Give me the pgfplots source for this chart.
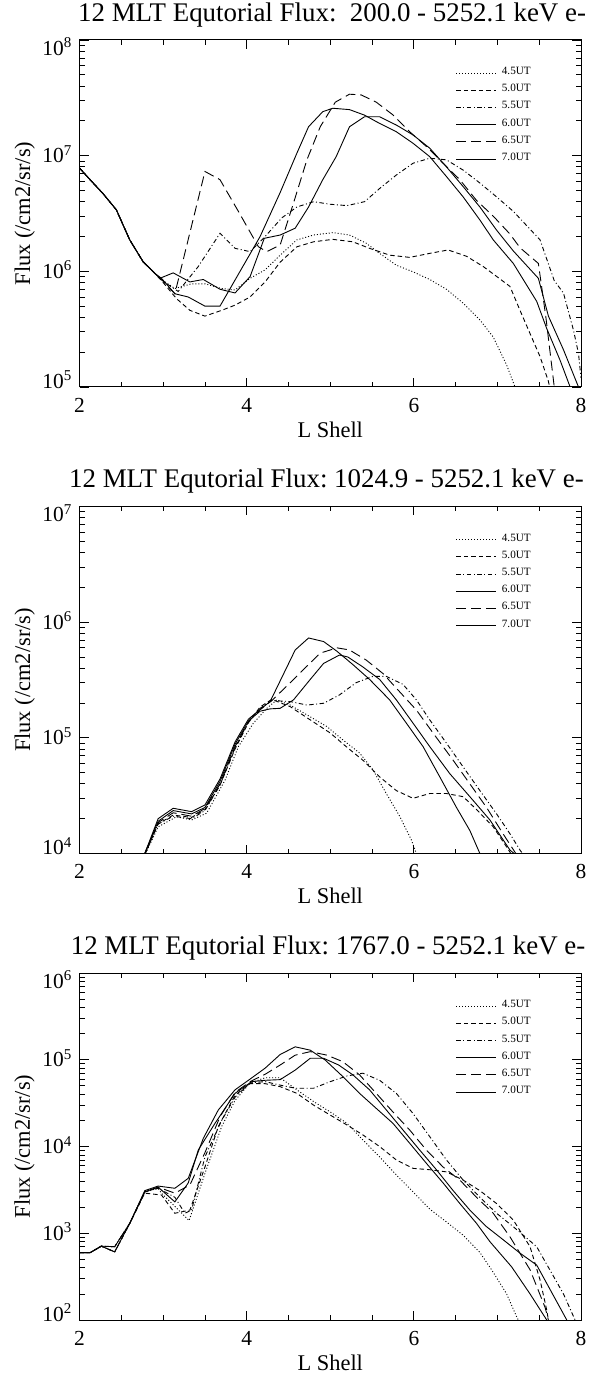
\documentclass[border=0pt]{standalone}
\usepackage{fontspec}
\setmainfont{Liberation Serif}
\usepackage{pgfplots}
\pgfplotsset{compat=1.18}
\newcommand{\lab}[2]{\raisebox{#2}[0pt][0pt]{10\textsuperscript{#1}}}
\tikzset{
  s45/.style={black, line width=0.9bp, dash pattern=on 1bp off 2bp},
  s50/.style={black, line width=0.9bp, dash pattern=on 4.5bp off 3bp},
  s55/.style={black, line width=0.9bp, dash pattern=on 4.5bp off 2.5bp on 1bp off 2.5bp},
  s60/.style={black, line width=0.9bp},
  s65/.style={black, line width=0.9bp, dash pattern=on 10bp off 5bp},
  s70/.style={black, line width=0.9bp},
}
\pgfplotsset{
    scale only axis, width=501.4bp, height=347bp,
    xmin=2, xmax=8, xtick={2,4,6,8}, xticklabels={2,4,6,8}, minor x tick num=3,
    tick align=inside, tick pos=both, xticklabel pos=left, yticklabel pos=left,
    major tick length=9bp, minor tick length=5bp,
    every tick/.style={black, line width=0.8bp},
    axis line style={line width=1bp},
    tick label style={font=\fontsize{21.5}{25}\selectfont, inner sep=0pt},
    xticklabel style={anchor=north, yshift=-11bp},
    yticklabel style={anchor=east, xshift=-7.5bp},
    xlabel style={at={(axis description cs:0.5,-0.14553)}, anchor=base, inner sep=0pt, font=\fontsize{22.5}{26}\selectfont},
    ylabel style={at={(axis description cs:-0.09892,0.5)}, anchor=base, inner sep=0pt, font=\fontsize{22.5}{26}\selectfont},
    title style={anchor=base west, inner sep=0pt, font=\fontsize{27}{30}\selectfont\frenchspacing},
    legend style={at={(axis description cs:0.7507,0.9222)}, anchor=north west,
      font=\fontsize{11.2}{12}\selectfont, draw=none, fill=none, inner sep=0pt, outer sep=0pt,
      row sep=9.6bp, column sep=5bp, nodes={inner sep=0pt, text height=7.6bp, text depth=0bp},
      cells={anchor=base west}},
    legend image code/.code={\draw[#1] (0bp,1.5bp) -- (40bp,1.5bp);},
}
\begin{document}
\begin{tikzpicture}
\useasboundingbox (0bp,0bp) rectangle (590bp,-1374bp);
% ---------------- Panel 1 ----------------
\begin{axis}[anchor=north west, at={(79.6bp,-40bp)},
  ymode=log,
  ymin=1e5, ymax=1e8,
  ytick={1e5,1e6,1e7,1e8},
  yticklabels={{\lab{5}{-1.1bp}},{\lab{6}{-7.1bp}},{\lab{7}{-7.1bp}},{\lab{8}{-15.4bp}}},
  minor ytick={2e5,3e5,4e5,5e5,6e5,7e5,8e5,9e5,2e6,3e6,4e6,5e6,6e6,7e6,8e6,9e6,2e7,3e7,4e7,5e7,6e7,7e7,8e7,9e7},
  xlabel={L Shell}, ylabel={Flux (/cm2/sr/s)},
  title={12 MLT Equtorial Flux:\ \ 200.0 - 5252.1 keV e-},
  title style={at={(axis description cs:-0.0032,1.03746)}},
]
\addplot[s45] coordinates {(2.0,7.8e6) (2.125,6.2e6) (2.28,4.7e6) (2.44,3.4e6) (2.60,1.87e6) (2.76,1.21e6) (2.90,9.6e5) (3.0,8.3e5) (3.14,7.1e5) (3.34,7.8e5) (3.50,7.8e5) (3.70,7.1e5) (3.86,6.9e5) (4.04,8.7e5) (4.22,1.03e6) (4.40,1.38e6) (4.60,1.87e6) (4.80,2.06e6) (5.03,2.16e6) (5.23,2.06e6) (5.43,1.75e6) (5.59,1.43e6) (5.79,1.13e6) (5.99,9.9e5) (6.19,8.5e5) (6.39,7.0e5) (6.59,5.3e5) (6.79,3.8e5) (6.95,2.7e5) (7.11,1.55e5) (7.21,1.0e5) (7.24,9.2e4)};
\addplot[s50] coordinates {(2.0,7.8e6) (2.125,6.2e6) (2.28,4.7e6) (2.44,3.4e6) (2.60,1.87e6) (2.76,1.21e6) (2.90,9.6e5) (3.0,8.0e5) (3.16,5.8e5) (3.32,4.6e5) (3.50,4.1e5) (3.70,4.6e5) (3.86,5.1e5) (4.04,6.0e5) (4.22,8.1e5) (4.40,1.2e6) (4.60,1.63e6) (4.80,1.8e6) (5.03,1.89e6) (5.27,1.8e6) (5.47,1.58e6) (5.71,1.38e6) (5.95,1.32e6) (6.19,1.43e6) (6.41,1.53e6) (6.63,1.35e6) (6.83,1.1e6) (7.03,8.6e5) (7.15,7.4e5) (7.27,4.6e5) (7.39,2.9e5) (7.51,1.83e5) (7.61,1.12e5) (7.63,9.5e4)};
\addplot[s55] coordinates {(2.0,7.8e6) (2.125,6.2e6) (2.28,4.7e6) (2.44,3.4e6) (2.60,1.87e6) (2.76,1.21e6) (2.90,9.6e5) (3.0,8.2e5) (3.18,6.7e5) (3.42,1.1e6) (3.68,2.13e6) (3.86,1.58e6) (4.04,1.48e6) (4.22,2.0e6) (4.42,2.9e6) (4.60,3.6e6) (4.80,4.0e6) (5.0,3.8e6) (5.20,3.7e6) (5.41,4.0e6) (5.59,5.2e6) (5.79,6.8e6) (5.99,8.6e6) (6.19,9.5e6) (6.39,9.2e6) (6.59,7.5e6) (6.79,5.8e6) (6.99,4.4e6) (7.19,3.3e6) (7.51,1.87e6) (7.68,8.3e5) (7.79,6.5e5) (7.91,3.1e5) (7.97,1.95e5) (8.0,1.2e5)};
\addplot[s60] coordinates {(2.0,7.8e6) (2.125,6.2e6) (2.28,4.7e6) (2.44,3.4e6) (2.60,1.87e6) (2.76,1.21e6) (2.90,9.6e5) (2.98,8.7e5) (3.14,6.4e5) (3.30,6.0e5) (3.50,5.0e5) (3.68,5.0e5) (4.16,2.0e6) (4.40,4.8e6) (4.60,1.05e7) (4.74,1.78e7) (4.91,2.4e7) (5.03,2.57e7) (5.23,2.5e7) (5.41,2.24e7) (5.59,1.9e7) (5.79,1.61e7) (5.99,1.28e7) (6.19,9.8e6) (6.39,6.6e6) (6.59,4.4e6) (6.79,2.78e6) (6.95,1.87e6) (7.19,1.17e6) (7.47,5.5e5) (7.59,3.2e5) (7.75,1.7e5) (7.87,1.0e5)};
\addplot[s65] coordinates {(2.0,7.8e6) (2.125,6.2e6) (2.28,4.7e6) (2.44,3.4e6) (2.60,1.87e6) (2.76,1.21e6) (2.90,9.6e5) (2.98,8.5e5) (3.14,6.4e5) (3.50,7.3e6) (3.68,6.2e6) (3.90,3.3e6) (4.14,1.63e6) (4.24,1.48e6) (4.40,1.69e6) (4.56,3.9e6) (4.72,9.2e6) (4.88,1.78e7) (5.06,2.9e7) (5.23,3.4e7) (5.37,3.35e7) (5.55,2.9e7) (5.75,2.25e7) (5.95,1.61e7) (6.15,1.2e7) (6.35,8.6e6) (6.55,6.2e6) (6.75,4.1e6) (6.95,3.0e6) (7.15,2.1e6) (7.27,1.6e6) (7.49,1.17e6) (7.58,4.0e5) (7.68,1.0e5)};
\addplot[s70] coordinates {(2.0,7.8e6) (2.125,6.2e6) (2.28,4.7e6) (2.44,3.4e6) (2.60,1.87e6) (2.76,1.21e6) (2.90,9.6e5) (2.96,8.7e5) (3.12,9.7e5) (3.32,8.1e5) (3.48,8.5e5) (3.68,7.0e5) (3.86,6.5e5) (4.04,9.0e5) (4.21,1.93e6) (4.40,2.06e6) (4.58,2.36e6) (4.74,3.6e6) (4.91,6.2e6) (5.07,9.8e6) (5.23,1.78e7) (5.41,2.17e7) (5.59,2.17e7) (5.79,1.84e7) (5.99,1.51e7) (6.19,1.16e7) (6.39,8.0e6) (6.59,5.4e6) (6.79,3.6e6) (6.99,2.27e6) (7.19,1.5e6) (7.49,8.7e5) (7.61,4.1e5) (7.79,2.1e5) (7.97,1.0e5)};
\legend{4.5UT,5.0UT,5.5UT,6.0UT,6.5UT,7.0UT}
\end{axis}
% ---------------- Panel 2 ----------------
\begin{axis}[anchor=north west, at={(79.6bp,-506.5bp)},
  ymode=log,
  ymin=1e4, ymax=1e7,
  ytick={1e4,1e5,1e6,1e7},
  yticklabels={{\lab{4}{-1.1bp}},{\lab{5}{-7.1bp}},{\lab{6}{-7.1bp}},{\lab{7}{-15.4bp}}},
  minor ytick={2e4,3e4,4e4,5e4,6e4,7e4,8e4,9e4,2e5,3e5,4e5,5e5,6e5,7e5,8e5,9e5,2e6,3e6,4e6,5e6,6e6,7e6,8e6,9e6},
  xlabel={L Shell}, ylabel={Flux (/cm2/sr/s)},
  title={12 MLT Equtorial Flux: 1024.9 - 5252.1 keV e-},
  title style={at={(axis description cs:-0.02114,1.03746)}},
]
\addplot[s45] coordinates {(2.79,1.0e4) (2.94,1.7e4) (3.16,2.08e4) (3.34,1.95e4) (3.52,2.23e4) (3.74,4.3e4) (3.90,8.4e4) (4.08,1.34e5) (4.24,1.8e5) (4.36,2.13e5) (4.52,1.92e5) (4.76,1.52e5) (4.96,1.25e5) (5.15,9.6e4) (5.35,7.4e4) (5.51,5.3e4) (5.67,3.3e4) (5.83,2.1e4) (5.97,1.31e4) (6.03,1.0e4)};
\addplot[s50] coordinates {(2.785,1.0e4) (2.94,1.8e4) (3.12,2.15e4) (3.34,2.05e4) (3.5,2.4e4) (3.68,3.9e4) (3.86,8.0e4) (4.02,1.35e5) (4.16,1.85e5) (4.30,2.15e5) (4.52,1.86e5) (4.76,1.43e5) (5.0,1.1e5) (5.19,8.4e4) (5.39,6.4e4) (5.59,4.6e4) (5.79,3.5e4) (5.99,3.0e4) (6.19,3.3e4) (6.39,3.3e4) (6.59,3.1e4) (6.75,2.4e4) (6.95,1.7e4) (7.11,1.14e4) (7.16,1.0e4)};
\addplot[s55] coordinates {(2.785,1.0e4) (2.94,1.8e4) (3.12,2.1e4) (3.34,2.0e4) (3.5,2.35e4) (3.68,3.9e4) (3.86,8.2e4) (4.02,1.38e5) (4.16,1.8e5) (4.30,2.1e5) (4.52,2.06e5) (4.72,1.92e5) (4.92,1.99e5) (5.11,2.35e5) (5.31,3.0e5) (5.51,3.4e5) (5.67,3.4e5) (5.87,2.9e5) (6.03,2.13e5) (6.19,1.43e5) (6.39,9.0e4) (6.59,5.6e4) (6.79,3.5e4) (6.99,2.2e4) (7.15,1.48e4) (7.27,1.07e4) (7.30,1.0e4)};
\addplot[s60] coordinates {(2.78,1.0e4) (2.94,2.0e4) (3.12,2.46e4) (3.34,2.3e4) (3.50,2.63e4) (3.68,4.4e4) (3.86,9.2e4) (4.02,1.45e5) (4.16,1.76e5) (4.28,2.06e5) (4.58,5.75e5) (4.74,7.3e5) (4.92,6.8e5) (5.08,5.6e5) (5.27,4.3e5) (5.47,3.2e5) (5.71,2.13e5) (5.91,1.34e5) (6.11,8.4e4) (6.31,4.6e4) (6.51,2.5e4) (6.67,1.58e4) (6.79,1.0e4)};
\addplot[s65] coordinates {(2.78,1.0e4) (2.94,1.85e4) (3.12,2.25e4) (3.34,2.1e4) (3.5,2.45e4) (3.68,4.0e4) (3.86,8.4e4) (4.02,1.38e5) (4.16,1.75e5) (4.30,2.1e5) (4.50,2.9e5) (4.68,3.9e5) (4.88,5.4e5) (5.08,6.0e5) (5.23,5.75e5) (5.43,4.7e5) (5.63,3.6e5) (5.83,2.5e5) (6.03,1.74e5) (6.23,1.1e5) (6.47,6.4e4) (6.67,4.0e4) (6.87,2.5e4) (7.07,1.47e4) (7.22,1.0e4)};
\addplot[s70] coordinates {(2.78,1.0e4) (2.94,1.9e4) (3.12,2.35e4) (3.34,2.2e4) (3.5,2.5e4) (3.68,4.2e4) (3.86,8.8e4) (4.02,1.4e5) (4.16,1.7e5) (4.28,1.78e5) (4.40,1.8e5) (4.56,2.13e5) (4.76,3.2e5) (4.92,4.4e5) (5.11,5.2e5) (5.21,5.0e5) (5.39,4.1e5) (5.59,3.2e5) (5.79,2.13e5) (5.99,1.34e5) (6.19,8.4e4) (6.43,4.9e4) (6.67,3.1e4) (6.91,1.95e4) (7.15,1.07e4) (7.2,1.0e4)};
\legend{4.5UT,5.0UT,5.5UT,6.0UT,6.5UT,7.0UT}
\end{axis}
% ---------------- Panel 3 ----------------
\begin{axis}[anchor=north west, at={(79.6bp,-973bp)},
  ymode=log,
  ymin=1e2, ymax=1e6,
  ytick={1e2,1e3,1e4,1e5,1e6},
  yticklabels={{\lab{2}{-1.1bp}},{\lab{3}{-7.1bp}},{\lab{4}{-7.1bp}},{\lab{5}{-7.1bp}},{\lab{6}{-15.4bp}}},
  minor ytick={2e2,3e2,4e2,5e2,6e2,7e2,8e2,9e2,2e3,3e3,4e3,5e3,6e3,7e3,8e3,9e3,2e4,3e4,4e4,5e4,6e4,7e4,8e4,9e4,2e5,3e5,4e5,5e5,6e5,7e5,8e5,9e5},
  xlabel={L Shell}, ylabel={Flux (/cm2/sr/s)},
  title={12 MLT Equtorial Flux: 1767.0 - 5252.1 keV e-},
  title style={at={(axis description cs:-0.01795,1.03746)}},
]
\addplot[s45] coordinates {(2.0,5.97e2) (2.125,5.97e2) (2.26,7.1e2) (2.42,7.0e2) (2.60,1.3e3) (2.78,3.0e3) (2.94,3.3e3) (2.98,2.9e3) (3.31,1.4e3) (3.50,4.9e3) (3.70,1.7e4) (3.86,3.4e4) (4.04,5.4e4) (4.22,6.2e4) (4.40,6.2e4) (4.60,4.5e4) (4.80,3.3e4) (5.0,2.5e4) (5.20,1.85e4) (5.39,1.19e4) (5.59,7.6e3) (5.79,4.7e3) (5.99,3.0e3) (6.19,1.9e3) (6.39,1.35e3) (6.59,9.5e2) (6.79,6.0e2) (6.93,3.8e2) (7.11,2.0e2) (7.23,1.09e2) (7.25,1.0e2)};
\addplot[s50] coordinates {(2.0,5.97e2) (2.125,5.97e2) (2.26,7.1e2) (2.42,6.1e2) (2.60,1.3e3) (2.78,2.9e3) (2.98,2.76e3) (3.14,1.7e3) (3.32,1.85e3) (3.50,5.8e3) (3.66,1.7e4) (3.86,3.9e4) (4.04,5.3e4) (4.22,5.3e4) (4.40,4.9e4) (4.60,4.1e4) (4.80,3.0e4) (5.0,2.3e4) (5.20,1.77e4) (5.39,1.36e4) (5.59,1.0e4) (5.79,7.0e3) (5.99,5.6e3) (6.19,5.4e3) (6.39,5.1e3) (6.59,4.1e3) (6.79,3.1e3) (6.99,2.2e3) (7.19,1.42e3) (7.39,7.0e2) (7.51,2.9e2) (7.59,1.3e2) (7.61,1.0e2)};
\addplot[s55] coordinates {(2.0,5.97e2) (2.125,5.97e2) (2.26,7.1e2) (2.42,6.1e2) (2.60,1.3e3) (2.78,3.0e3) (2.94,3.3e3) (3.14,2.6e3) (3.26,1.7e3) (3.34,1.85e3) (3.50,7.6e3) (3.70,2.0e4) (3.86,3.7e4) (4.04,5.4e4) (4.22,5.6e4) (4.40,5.1e4) (4.58,4.7e4) (4.80,4.7e4) (5.0,5.6e4) (5.20,6.5e4) (5.39,7.0e4) (5.59,5.8e4) (5.79,4.1e4) (5.99,2.4e4) (6.19,1.3e4) (6.39,7.0e3) (6.59,4.1e3) (6.79,2.6e3) (6.99,1.7e3) (7.19,1.19e3) (7.47,7.0e2) (7.79,2.0e2) (7.91,1.1e2) (7.93,1.0e2)};
\addplot[s60] coordinates {(2.0,5.97e2) (2.125,5.97e2) (2.26,7.1e2) (2.42,7.0e2) (2.60,1.3e3) (2.78,3.1e3) (2.94,3.5e3) (3.14,3.3e3) (3.30,4.3e3) (3.48,1.24e4) (3.66,2.64e4) (3.86,4.5e4) (4.02,5.8e4) (4.22,8.0e4) (4.40,1.15e5) (4.58,1.41e5) (4.76,1.29e5) (4.94,9.9e4) (5.15,6.4e4) (5.35,4.1e4) (5.55,2.75e4) (5.75,1.85e4) (5.95,1.09e4) (6.15,6.4e3) (6.35,3.8e3) (6.55,2.2e3) (6.75,1.3e3) (6.91,8.0e2) (7.17,4.1e2) (7.39,2.0e2) (7.59,1.0e2)};
\addplot[s65] coordinates {(2.0,5.97e2) (2.125,5.97e2) (2.26,7.1e2) (2.42,7.0e2) (2.60,1.3e3) (2.78,3.0e3) (2.94,3.4e3) (3.14,2.9e3) (3.32,3.6e3) (3.50,8.5e3) (3.68,2.2e4) (3.86,4.2e4) (4.04,5.6e4) (4.22,6.8e4) (4.40,8.7e4) (4.58,1.13e5) (4.76,1.24e5) (4.96,1.13e5) (5.15,9.5e4) (5.35,6.7e4) (5.55,4.1e4) (5.75,2.5e4) (5.95,1.55e4) (6.15,9.1e3) (6.35,5.8e3) (6.55,4.1e3) (6.75,2.6e3) (6.95,1.7e3) (7.15,9.1e2) (7.39,3.8e2) (7.57,1.4e2) (7.61,1.0e2)};
\addplot[s70] coordinates {(2.0,5.97e2) (2.125,5.97e2) (2.26,7.1e2) (2.42,6.1e2) (2.60,1.3e3) (2.78,3.0e3) (2.94,3.4e3) (3.14,2.3e3) (3.30,3.8e3) (3.42,9.1e3) (3.62,1.85e4) (3.86,4.1e4) (4.06,5.6e4) (4.22,5.8e4) (4.40,5.9e4) (4.58,7.6e4) (4.76,1.04e5) (4.92,1.04e5) (5.10,8.7e4) (5.27,6.7e4) (5.47,4.5e4) (5.67,2.64e4) (5.87,1.55e4) (6.07,9.1e3) (6.27,5.4e3) (6.47,3.1e3) (6.67,1.85e3) (6.87,1.19e3) (7.07,8.4e2) (7.27,5.9e2) (7.47,4.3e2) (7.83,1.0e2)};
\legend{4.5UT,5.0UT,5.5UT,6.0UT,6.5UT,7.0UT}
\end{axis}
\end{tikzpicture}
\end{document}
